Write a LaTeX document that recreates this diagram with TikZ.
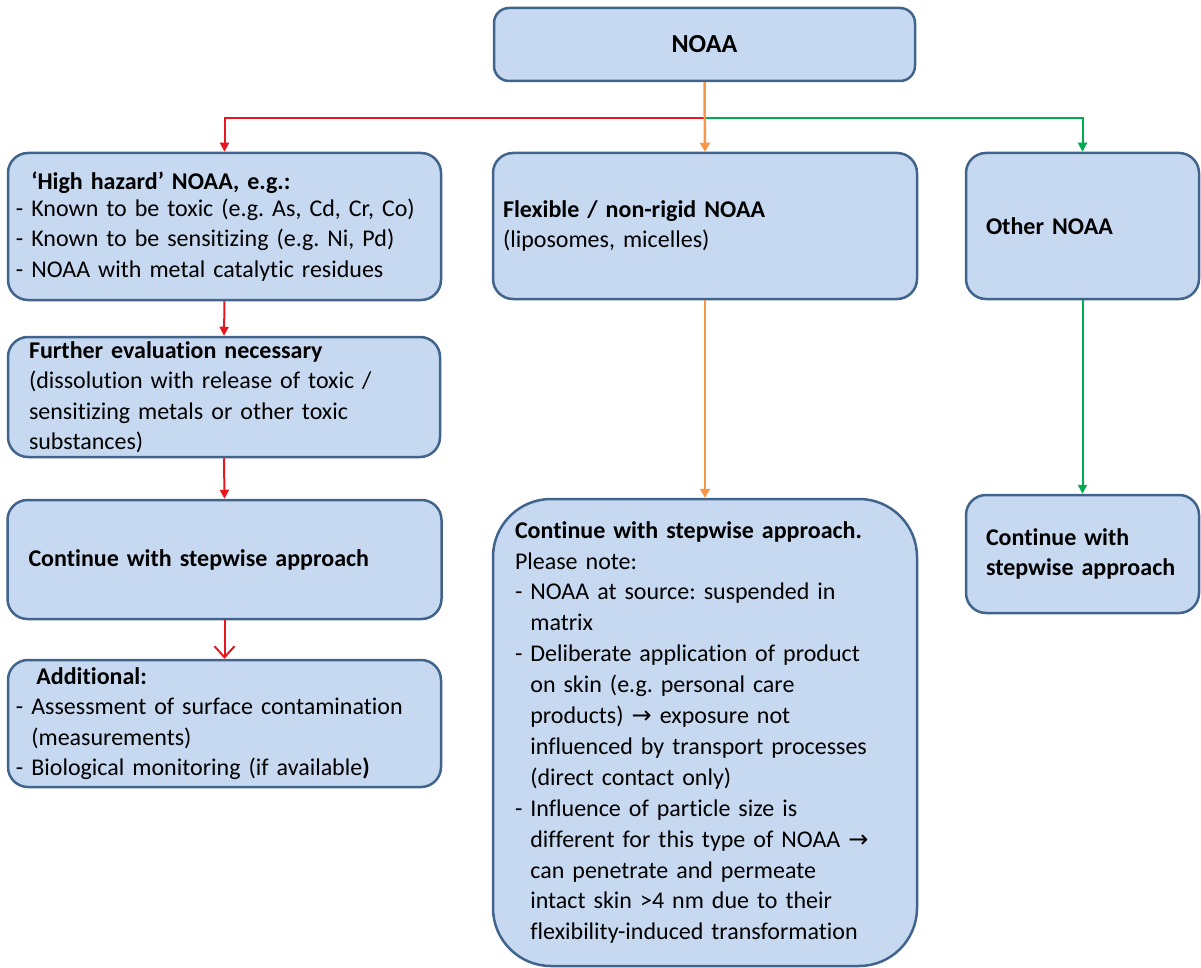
\documentclass[tikz,border=0pt]{standalone}
\usepackage{fontspec}
\setmainfont{Carlito}[Ligatures={TeX,NoCommon}]
\newfontfamily\arrowfont{DejaVu Sans}
\usetikzlibrary{arrows.meta,positioning}
\definecolor{BoxFill}{RGB}{198,217,240}
\definecolor{BoxLine}{RGB}{65,100,140}
\definecolor{HazRed}{RGB}{232,22,30}
\definecolor{FlexOrange}{RGB}{245,150,72}
\definecolor{OtherGreen}{RGB}{0,172,80}
\newcommand{\ind}{\hphantom{- }}
\newcommand{\rarr}{{\arrowfont →}}
\frenchspacing
\tikzset{
  flowbox/.style={draw=BoxLine,fill=BoxFill,line width=2.5pt,rounded corners=20pt,
    align=left,inner xsep=10pt,inner ysep=3pt,font=\fontsize{24}{30.5}\selectfont},
  redline/.style={draw=HazRed,line width=2pt},
  redarrow/.style={redline,-{Triangle[length=9pt,width=9pt]}},
  orangearrow/.style={draw=FlexOrange,line width=2.5pt,-{Triangle[length=9pt,width=10pt]}},
  greenarrow/.style={draw=OtherGreen,line width=2pt,-{Triangle[length=9pt,width=9pt]}}
}
\begin{document}
\begin{tikzpicture}[x=1pt,y=-1pt]
\useasboundingbox (0,0) rectangle (1201,968);
% top
\node[flowbox,rounded corners=15pt,align=center,text width=401pt,
    minimum width=421pt,minimum height=73pt,font=\fontsize{26}{30}\selectfont\bfseries]
    (noaa) at (704.5,44.5) {NOAA};
% left column
\node[flowbox,inner xsep=8pt,text width=417pt,minimum width=433pt,minimum height=147pt]
    (hazard) at (224.5,226.5) {\textbf{\ind ‘High hazard’ NOAA, e.g.:}\\[-4pt]
    - Known to be toxic (e.g. As, Cd, Cr, Co)\\
    - Known to be sensitizing (e.g. Ni, Pd)\\
    - NOAA with metal catalytic residues};
\node[flowbox,inner xsep=21pt,text width=390pt,minimum width=432pt,minimum height=120pt]
    (further) at (224,397) {\textbf{Further evaluation necessary}\\
    (dissolution with release of toxic /\\
    sensitizing metals or other toxic\\
    substances)};
\node[flowbox,inner xsep=21pt,text width=392pt,minimum width=434pt,minimum height=119pt]
    (stepleft) at (224.5,559.5) {\textbf{Continue with stepwise approach}};
\node[flowbox,inner xsep=8pt,text width=417pt,minimum width=433pt,minimum height=127pt]
    (additional) at (224.5,723.5) {\textbf{\ind\hspace{5pt}Additional:}\\
    - Assessment of surface contamination\\
    \ind(measurements)\\
    - Biological monitoring (if available\textbf{)}};
% middle column
\node[flowbox,text width=404pt,minimum width=424pt,minimum height=146pt]
    (flexible) at (705,226) {\textbf{Flexible / non-rigid NOAA}\\
    (liposomes, micelles)};
\node[flowbox,rounded corners=58pt,inner xsep=22pt,text width=380pt,
    minimum width=424pt,minimum height=467pt,font=\fontsize{24}{30.9}\selectfont]
    (stepmid) at (705,732.5) {\textbf{Continue with stepwise approach.}\\
    Please note:\\
    - NOAA at source: suspended in\\
    \ind matrix\\
    - Deliberate application of product\\
    \ind on skin (e.g. personal care\\
    \ind products) \rarr{} exposure not\\
    \ind influenced by transport processes\\
    \ind (direct contact only)\\
    - Influence of particle size is\\
    \ind different for this type of NOAA \rarr\\
    \ind can penetrate and permeate\\
    \ind intact skin >4 nm due to their\\
    \ind flexibility-induced transformation};
% right column
\node[flowbox,inner xsep=20pt,text width=193pt,minimum width=233pt,minimum height=146pt]
    (other) at (1082.5,226) {\textbf{Other NOAA}};
\node[flowbox,inner xsep=20pt,text width=193pt,minimum width=233pt,minimum height=118pt]
    (stepright) at (1082.5,554) {\textbf{Continue with}\\\textbf{stepwise approach}};
% connectors
\coordinate (fork) at (704.5,118);
\draw[redarrow] (fork) -| (hazard.north);
\draw[greenarrow] (fork) -| (other.north);
\draw[orangearrow] (noaa.south) -- (flexible.north);
\draw[redarrow] (hazard.south) -- (further.north);
\draw[redarrow] (further.south) -- (stepleft.north);
\draw[redline,-{Straight Barb[length=11pt,width=20pt,line width=2pt]}]
    (stepleft.south) -- (additional.north);
\draw[orangearrow] (flexible.south) -- (stepmid.north);
\draw[greenarrow] (other.south) -- (stepright.north);
\end{tikzpicture}
\end{document}
